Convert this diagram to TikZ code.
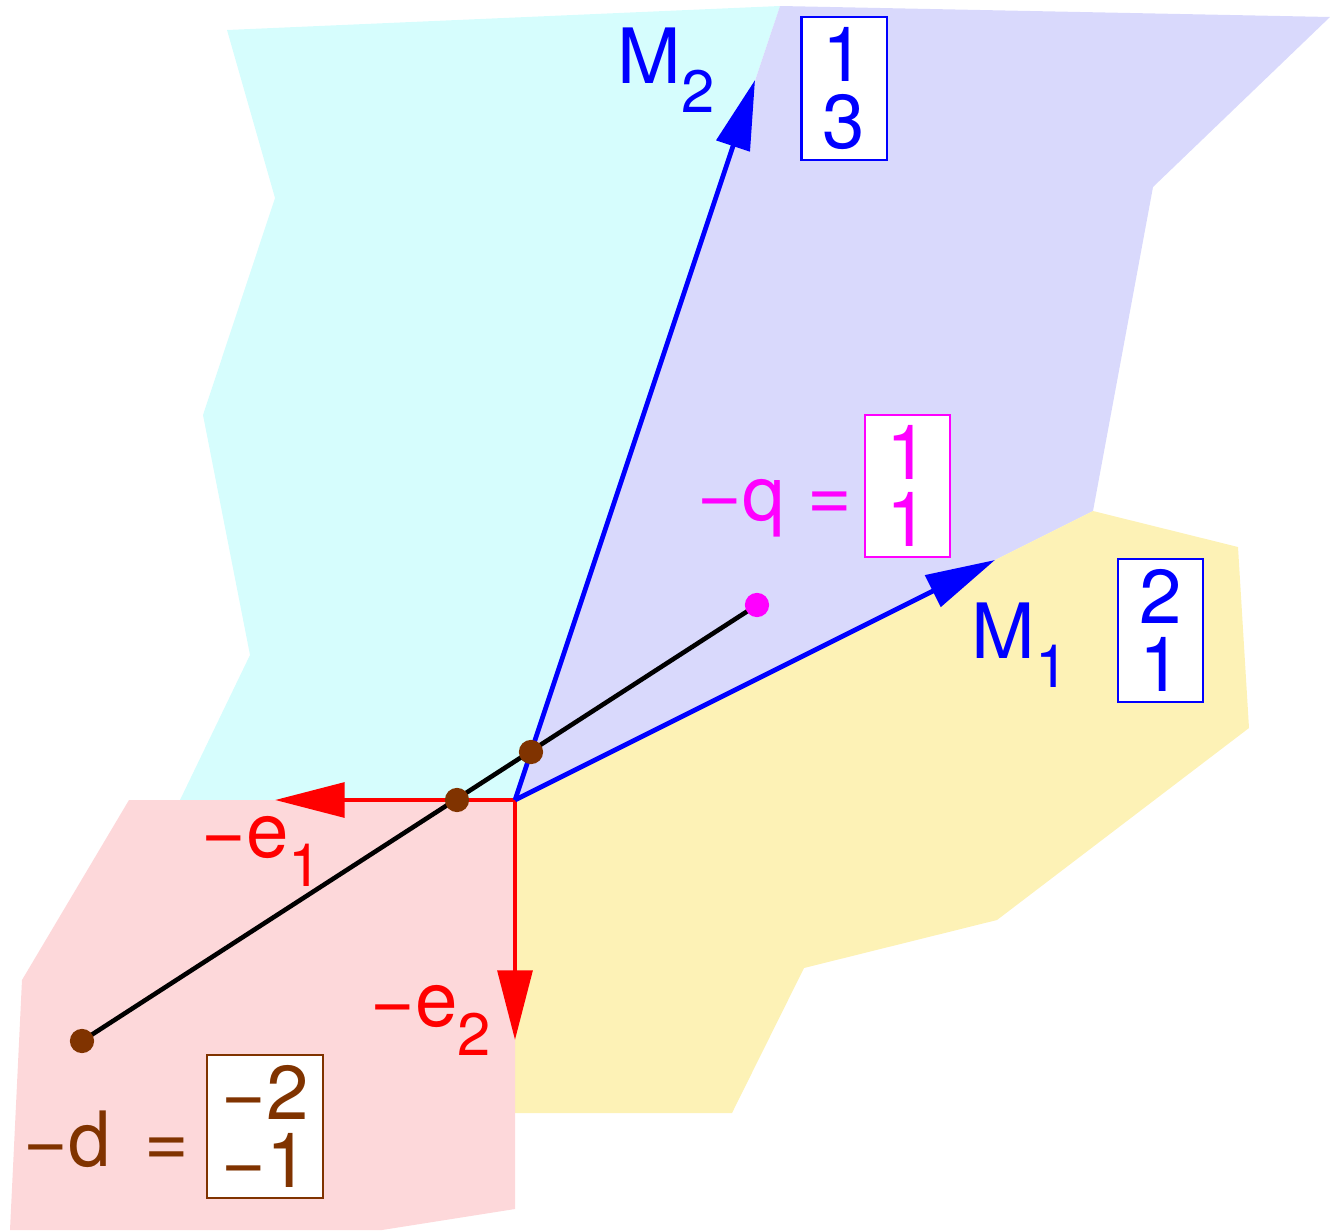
\documentclass[tikz,border=0pt]{standalone}
\usepackage{fontspec}
\setmainfont{TeX Gyre Heros}
\usetikzlibrary{arrows.meta}
\definecolor{cyanfill}{RGB}{214,253,253}
\definecolor{purfill}{RGB}{217,217,252}
\definecolor{yelfill}{RGB}{253,242,182}
\definecolor{redfill}{RGB}{253,216,218}
\definecolor{brownc}{RGB}{128,51,0}
\definecolor{magc}{RGB}{255,0,255}
\newcommand\sbs[1]{\raisebox{-8.4pt}{\fontsize{17}{17}\selectfont #1}}
\begin{document}
\begin{tikzpicture}[x=0.01cm,y=-0.01cm,
  lbl/.style={inner sep=0pt, anchor=base west, font=\fontsize{21.7}{19.3}\selectfont},
  vbox/.style={line width=0.6pt, fill=white, inner sep=0pt, minimum width=24.2pt, minimum height=40.5pt, align=center, font=\fontsize{21.7}{19.3}\selectfont},
  vec/.style={line width=1.35pt, -{Triangle[length=19.8pt,width=9.8pt]}},
  dotc/.style={circle, inner sep=0pt, minimum size=6.9pt, fill=brownc}]
\useasboundingbox (0,0) rectangle (1330,1230);
% regions
\fill[cyanfill] (227,30) -- (780,6) -- (515,800) -- (180,800) -- (250,655) -- (203,415) -- (275,198) -- cycle;
\fill[purfill] (780,6) -- (1330,17) -- (1153,187) -- (1093,511) -- (515,800) -- cycle;
\fill[yelfill] (1093,511) -- (1238,547) -- (1249,728) -- (997,920) -- (804,968) -- (732,1113) -- (515,1113) -- (515,800) -- cycle;
\fill[redfill] (515,800) -- (129,800) -- (22,980) -- (10,1230) -- (382,1230) -- (515,1209) -- cycle;
% coordinates
\coordinate (O) at (515,800);
\coordinate (M2tip) at (755,80);
\coordinate (M1tip) at (995,560);
\coordinate (e1tip) at (275,800);
\coordinate (e2tip) at (515,1040);
\coordinate (dpt) at (82,1041);
\coordinate (qpt) at (757,605);
% vectors
\draw[vec, red] (O) -- (e1tip);
\draw[vec, red] (O) -- (e2tip);
\draw[vec, blue] (O) -- (M2tip);
\draw[vec, blue] (O) -- (M1tip);
% black segment
\draw[line width=1.3pt, black] (dpt) -- (qpt);
% dots
\node[dotc] (dd) at (dpt) {};
\node[dotc, fill=magc] (qq) at (qpt) {};
\node[dotc] (x1) at (457,800) {};
\node[dotc] (x2) at (531,752) {};
% boxes
\node[vbox, draw=blue, text=blue] (b13) at (844,88.5) {1\\3};
\node[vbox, draw=magc, text=magc] (bq) at (907.5,486) {1\\1};
\node[vbox, draw=blue, text=blue] (b21) at (1160.5,630.5) {2\\1};
\node[vbox, draw=brownc, text=brownc, minimum width=32.9pt] (bd) at (265,1126.5) {−2\\−1};
% labels
\node[lbl, blue] (lM2) at (617,83) {M\sbs{2}};
\node[lbl, blue] (lM1) at (971,658) {M\sbs{1}};
\node[lbl, magc] (lq) at (697,520) {−q\hspace{0.3em}=};
\node[lbl, red] (le1) at (201,857) {−e\sbs{1}};
\node[lbl, red] (le2) at (370,1026) {−e\sbs{2}};
\node[lbl, brownc] (ld) at (23,1166) {−d\hspace{0.45em}=};
\end{tikzpicture}
\end{document}
